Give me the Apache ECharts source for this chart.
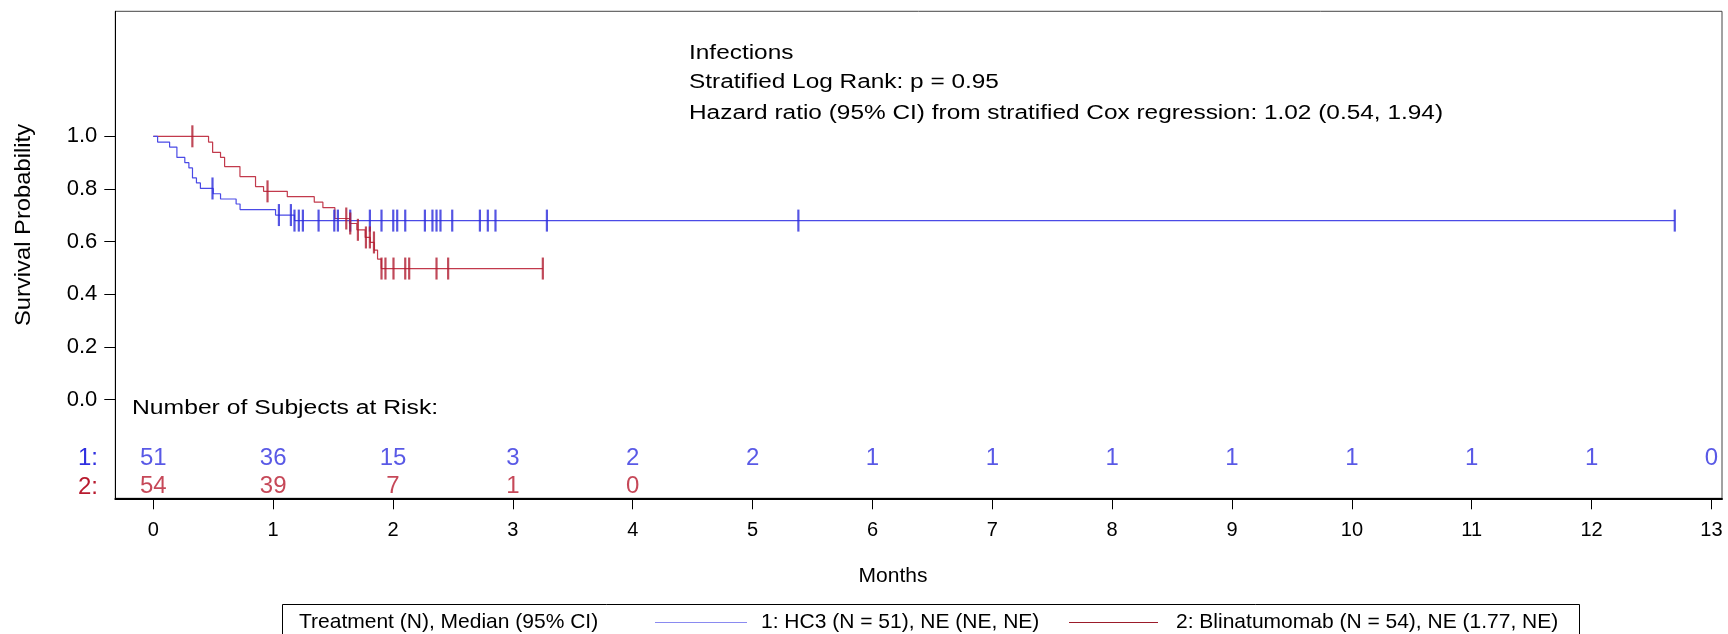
<!DOCTYPE html>
<html>
<head>
<meta charset="utf-8">
<script src="https://cdn.jsdelivr.net/npm/echarts@6/dist/echarts.min.js"></script>
<style>
  html, body { margin: 0; padding: 0; background: #ffffff; }
  #chart { width: 1728px; height: 634px; }
</style>
</head>
<body>
<div id="chart"></div>
<script>
// Kaplan-Meier estimates for time to first infection, by treatment arm.

// Month ticks and numbers at risk
const months = [0, 1, 2, 3, 4, 5, 6, 7, 8, 9, 10, 11, 12, 13];
const riskHC3 = [51, 36, 15, 3, 2, 2, 1, 1, 1, 1, 1, 1, 1, 0];
const riskBlina = [54, 39, 7, 1, 0];
const probTicks = [0, 0.2, 0.4, 0.6, 0.8, 1.0];

// Step points [month, survival probability]
const hc3Steps = [
  [0, 1.0], [0.036, 0.978], [0.136, 0.959], [0.197, 0.92], [0.263, 0.90],
  [0.297, 0.88], [0.327, 0.842], [0.36, 0.823], [0.393, 0.802], [0.50, 0.782],
  [0.561, 0.762], [0.691, 0.743], [0.724, 0.722], [1.02, 0.701], [1.178, 0.68],
  [12.694, 0.68]
];
const hc3Censored = [
  0.494, 1.048, 1.148, 1.178, 1.214, 1.248, 1.379, 1.51, 1.54, 1.643, 1.807,
  1.904, 2.002, 2.035, 2.102, 2.266, 2.329, 2.363, 2.396, 2.494, 2.725, 2.791,
  2.855, 3.284, 5.382, 12.694
];

const blinaSteps = [
  [0, 1.0], [0.461, 0.978], [0.495, 0.939], [0.561, 0.92], [0.595, 0.885],
  [0.723, 0.847], [0.853, 0.809], [0.92, 0.791], [1.118, 0.771], [1.343, 0.75],
  [1.415, 0.729], [1.515, 0.688], [1.637, 0.669], [1.699, 0.645], [1.768, 0.616],
  [1.81, 0.597], [1.843, 0.568], [1.871, 0.534], [1.902, 0.498], [3.25, 0.498]
];
const blinaCensored = [
  0.326, 0.953, 1.61, 1.643, 1.707, 1.774, 1.807, 1.841, 1.904, 1.937, 2.004,
  2.102, 2.135, 2.363, 2.46, 3.25
];

const BLUE_LINE = '#4a4ae6';
const BLUE_MARK = '#2b2bdc';
const BLUE_TEXT = '#2f2fe0';
const RED_LINE = '#c23a4c';
const RED_MARK = '#b01c30';
const RED_TEXT = '#b81a2e';
const FONT = '"Liberation Sans", Arial, sans-serif';

// Survival probability of a step curve at time t
function survAt(steps, t) {
  let s = steps[0][1];
  for (const [time, v] of steps) { if (time <= t + 1e-9) s = v; }
  return s;
}

// Rows of the at-risk table sit below the zero line, inside the frame
const ROW1_Y = -0.221;
const ROW2_Y = -0.33;

const chart = echarts.init(document.getElementById('chart'), null, { renderer: 'canvas' });

const riskSeries = (counts, rowY, color) => ({
  type: 'scatter',
  symbolSize: 0,
  silent: true,
  data: counts.map((n, i) => [months[i], rowY, n]),
  label: {
    show: true,
    position: 'inside',
    formatter: p => String(p.value[2]),
    color: color,
    fontFamily: FONT,
    fontSize: 24
  },
  z: 5
});

// Plain text drawn on the canvas, widened a little along its baseline
const label = (text, x, y, size, opts = {}) => ({
  type: 'text',
  x: x, y: y,
  rotation: opts.rotation || 0,
  scaleX: opts.scaleX || 1,
  style: {
    text: text,
    font: size + 'px ' + FONT,
    fill: opts.fill || '#000',
    align: opts.align || 'left',
    verticalAlign: 'middle'
  }
});

chart.setOption({
  animation: false,
  backgroundColor: '#ffffff',
  grid: {
    left: 115.3, right: 6, top: 11.3, bottom: 135.7,
    show: true, borderColor: '#444', borderWidth: 1, containLabel: false
  },
  xAxis: {
    type: 'value',
    min: -0.317, max: 13.088,
    axisLine: { show: true, onZero: false, lineStyle: { color: '#000', width: 2 } },
    axisTick: { show: true, length: 11, customValues: months, lineStyle: { color: '#000', width: 1 } },
    axisLabel: {
      customValues: months, margin: 22, color: '#000', fontFamily: FONT, fontSize: 20,
      formatter: v => String(Math.round(v))
    },
    splitLine: { show: false }
  },
  yAxis: {
    type: 'value',
    min: -0.3743, max: 1.4746,
    axisLine: { show: true, onZero: false, lineStyle: { color: '#000', width: 1 } },
    axisTick: { show: true, length: 11, customValues: probTicks, lineStyle: { color: '#000', width: 1 } },
    axisLabel: {
      customValues: probTicks, margin: 18, color: '#000', fontFamily: FONT, fontSize: 22,
      formatter: v => v.toFixed(1)
    },
    splitLine: { show: false }
  },
  series: [
    {
      name: '1: HC3 (N = 51), NE (NE, NE)',
      type: 'line', step: 'end', showSymbol: false, silent: true,
      data: hc3Steps,
      lineStyle: { color: BLUE_LINE, width: 1.2 },
      z: 3
    },
    {
      name: '2: Blinatumomab (N = 54), NE (1.77, NE)',
      type: 'line', step: 'end', showSymbol: false, silent: true,
      data: blinaSteps,
      lineStyle: { color: RED_LINE, width: 1.2 },
      z: 2
    },
    {
      type: 'scatter', silent: true,
      symbol: 'rect', symbolSize: [2.2, 22],
      data: hc3Censored.map(t => [t, survAt(hc3Steps, t)]),
      itemStyle: { color: BLUE_MARK },
      z: 4
    },
    {
      type: 'scatter', silent: true,
      symbol: 'rect', symbolSize: [2.2, 22],
      data: blinaCensored.map(t => [t, survAt(blinaSteps, t)]),
      itemStyle: { color: RED_MARK },
      z: 4
    },
    riskSeries(riskHC3, ROW1_Y, BLUE_TEXT),
    riskSeries(riskBlina, ROW2_Y, RED_TEXT)
  ],
  graphic: [
    // statistics block
    label('Infections', 689, 53, 20, { scaleX: 1.22 }),
    label('Stratified Log Rank: p = 0.95', 689, 82.5, 20, { scaleX: 1.22 }),
    label('Hazard ratio (95% CI) from stratified Cox regression: 1.02 (0.54, 1.94)', 689, 113, 20, { scaleX: 1.22 }),
    // axis titles
    label('Survival Probability', 24, 225, 22, { rotation: Math.PI / 2, scaleX: 1.08, align: 'center' }),
    label('Months', 893, 576, 21, { align: 'center' }),
    // at-risk table heading and row labels
    label('Number of Subjects at Risk:', 132, 408, 20, { scaleX: 1.235 }),
    label('1:', 98, 458, 24, { fill: BLUE_TEXT, align: 'right' }),
    label('2:', 98, 487, 24, { fill: RED_TEXT, align: 'right' }),
    // legend box
    { type: 'rect', shape: { x: 282.5, y: 604.5, width: 1297, height: 40 }, style: { fill: 'none', stroke: '#000', lineWidth: 1 } },
    label('Treatment (N), Median (95% CI)', 299, 622, 21),
    { type: 'line', shape: { x1: 655, y1: 622.5, x2: 747, y2: 622.5 }, style: { stroke: '#8a8af0', lineWidth: 1 } },
    label('1: HC3 (N = 51), NE (NE, NE)', 761, 622, 21),
    { type: 'line', shape: { x1: 1069, y1: 622.5, x2: 1158, y2: 622.5 }, style: { stroke: '#9b1b2a', lineWidth: 1 } },
    label('2: Blinatumomab (N = 54), NE (1.77, NE)', 1176, 622, 21)
  ]
});
</script>
</body>
</html>
